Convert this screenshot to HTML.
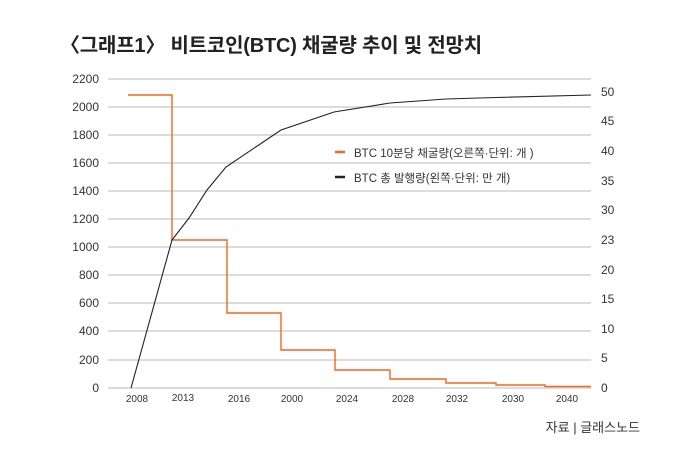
<!DOCTYPE html>
<html><head><meta charset="utf-8"><style>
body{margin:0;background:#fff;}
svg text{font-family:"Liberation Sans","Noto Sans CJK KR",sans-serif;fill:#333;}
</style></head><body>
<svg width="700" height="457" viewBox="0 0 700 457" xmlns="http://www.w3.org/2000/svg">
<text x="60" y="52" font-size="20" font-weight="bold" letter-spacing="-0.2" style="fill:#222">〈그래프1〉 비트코인(BTC) 채굴량 추이 및 전망치</text>
<g stroke="#c8c8c8" stroke-width="1.3">
<line x1="108" x2="591" y1="79" y2="79"/><line x1="108" x2="591" y1="107" y2="107"/>
<line x1="108" x2="591" y1="135" y2="135"/><line x1="108" x2="591" y1="163" y2="163"/>
<line x1="108" x2="591" y1="191" y2="191"/><line x1="108" x2="591" y1="219" y2="219"/>
<line x1="108" x2="591" y1="247" y2="247"/><line x1="108" x2="591" y1="275" y2="275"/>
<line x1="108" x2="591" y1="303" y2="303"/><line x1="108" x2="591" y1="331" y2="331"/>
<line x1="108" x2="591" y1="360" y2="360"/><line x1="108" x2="591" y1="388" y2="388"/>
</g>
<g font-size="12" text-anchor="end">
<text x="99" y="83">2200</text><text x="99" y="111">2000</text><text x="99" y="139">1800</text>
<text x="99" y="167">1600</text><text x="99" y="195">1400</text><text x="99" y="223">1200</text>
<text x="99" y="251">1000</text><text x="99" y="279">800</text><text x="99" y="307">600</text>
<text x="99" y="335">400</text><text x="99" y="364">200</text><text x="99" y="392">0</text>
</g>
<g font-size="12">
<text x="601" y="96">50</text><text x="601" y="125">45</text><text x="601" y="155">40</text>
<text x="601" y="185">35</text><text x="601" y="214">30</text><text x="601" y="244">23</text>
<text x="601" y="274">20</text><text x="601" y="303">15</text><text x="601" y="333">10</text>
<text x="601" y="362">5</text><text x="601" y="392">0</text>
</g>
<g font-size="10" text-anchor="middle">
<text x="137" y="402">2008</text><text x="183" y="401">2013</text><text x="239" y="402">2016</text>
<text x="292" y="402">2000</text><text x="347" y="402">2024</text><text x="403" y="402">2028</text>
<text x="457" y="402">2032</text><text x="513" y="402">2030</text><text x="567" y="402">2040</text>
</g>
<polyline fill="none" stroke="#f26522" stroke-width="1.4" points="128,95 172,95 172,240 227,240 227,313 281,313 281,350 335,350 335,370 390,370 390,379 446,379 446,383 496,383 496,385 545,385 545,386.5 591,386.5"/>
<polyline fill="none" stroke="#222" stroke-width="1.1" points="131,388 172,240 189,218 207,190 226,167 281,130 334,112 390,103 446,99 496,97.5 591,95"/>
<line x1="335" x2="345" y1="152" y2="152" stroke="#f26522" stroke-width="2.5"/>
<line x1="335" x2="345" y1="177" y2="177" stroke="#222" stroke-width="2.5"/>
<text x="354" y="157" font-size="11.5">BTC 10분당 채굴량(오른쪽·단위: 개 )</text>
<text x="354" y="182" font-size="11.5">BTC 총 발행량(왼쪽·단위: 만 개)</text>
<text x="640" y="432" font-size="13" text-anchor="end">자료 | 글래스노드</text>
</svg>
</body></html>
